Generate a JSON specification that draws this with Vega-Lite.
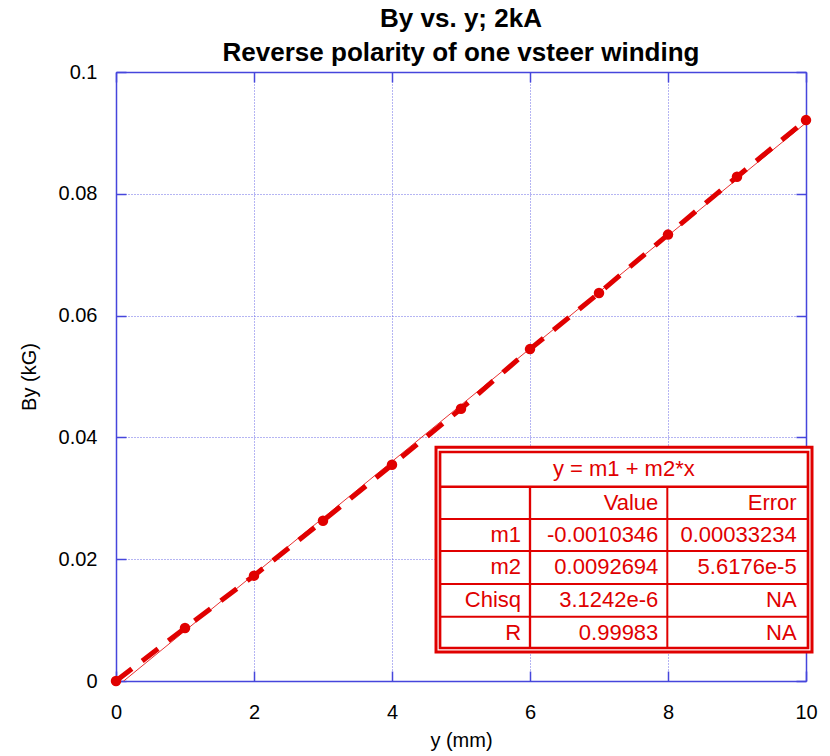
{
  "$schema": "https://vega.github.io/schema/vega-lite/v6.json",
  "autosize": "none",
  "width": 690,
  "height": 609,
  "padding": {"left": 116, "top": 72, "right": 24, "bottom": 75},
  "background": "white",
  "config": {
    "view": {"stroke": null},
    "font": "Liberation Sans",
    "axis": {
      "labelFont": "Liberation Sans", "labelFontSize": 20, "labelColor": "black", "labelFlush": false,
      "titleFont": "Liberation Sans", "titleFontSize": 20, "titleFontWeight": "normal", "titleColor": "black",
      "domainColor": "#4646dc", "domainWidth": 1.5,
      "tickColor": "#4646dc", "tickWidth": 1.5, "tickSize": -10,
      "gridColor": "#6a6ae6", "gridDash": [1, 2], "gridWidth": 1, "gridOpacity": 1
    }
  },
  "title": {
    "text": ["By vs. y; 2kA", "Reverse polarity of one vsteer winding"],
    "font": "Liberation Sans", "fontSize": 26, "fontWeight": "bold", "color": "black",
    "lineHeight": 34, "offset": -4, "anchor": "middle", "frame": "group"
  },
  "datasets": {
    "pts": [
      {"y_mm": 0, "By": 0},
      {"y_mm": 1, "By": 0.0087},
      {"y_mm": 2, "By": 0.0173},
      {"y_mm": 3, "By": 0.0263},
      {"y_mm": 4, "By": 0.0355},
      {"y_mm": 5, "By": 0.0447},
      {"y_mm": 6, "By": 0.0545},
      {"y_mm": 7, "By": 0.0637},
      {"y_mm": 8, "By": 0.0733},
      {"y_mm": 9, "By": 0.0828},
      {"y_mm": 10, "By": 0.0921}
    ],
    "fit": [
      {"y_mm": 0, "By": -0.0010346},
      {"y_mm": 10, "By": 0.091659}
    ],
    "box": [
      {"kind": "outer", "x": 4.638, "x2": 10.087, "y": 0.03837, "y2": 0.00476},
      {"kind": "inner", "x": 4.696, "x2": 10.029, "y": 0.0376, "y2": 0.00542}
    ],
    "lines": [
      {"kind": "thick", "x": 4.696, "x2": 10.029, "y": 0.0319, "y2": 0.0319},
      {"kind": "thin", "x": 4.696, "x2": 10.029, "y": 0.0266, "y2": 0.0266},
      {"kind": "thin", "x": 4.696, "x2": 10.029, "y": 0.02135, "y2": 0.02135},
      {"kind": "thin", "x": 4.696, "x2": 10.029, "y": 0.01593, "y2": 0.01593},
      {"kind": "thin", "x": 4.696, "x2": 10.029, "y": 0.01056, "y2": 0.01056},
      {"kind": "thick", "x": 6.0, "x2": 6.0, "y": 0.0319, "y2": 0.00542},
      {"kind": "thin", "x": 7.99, "x2": 7.99, "y": 0.0319, "y2": 0.00542}
    ],
    "cells": [
      {"t": "Value", "x": 7.86, "y": 0.02923},
      {"t": "Error", "x": 9.865, "y": 0.02923},
      {"t": "m1", "x": 5.87, "y": 0.02397},
      {"t": "-0.0010346", "x": 7.86, "y": 0.02397},
      {"t": "0.00033234", "x": 9.865, "y": 0.02397},
      {"t": "m2", "x": 5.87, "y": 0.01864},
      {"t": "0.0092694", "x": 7.86, "y": 0.01864},
      {"t": "5.6176e-5", "x": 9.865, "y": 0.01864},
      {"t": "Chisq", "x": 5.87, "y": 0.0133},
      {"t": "3.1242e-6", "x": 7.86, "y": 0.0133},
      {"t": "NA", "x": 9.865, "y": 0.0133},
      {"t": "R", "x": 5.87, "y": 0.00796},
      {"t": "0.99983", "x": 7.86, "y": 0.00796},
      {"t": "NA", "x": 9.865, "y": 0.00796}
    ],
    "head": [
      {"t": "y = m1 + m2*x", "x": 7.36, "y": 0.03475}
    ]
  },
  "resolve": {"axis": {"x": "independent", "y": "independent"}},
  "layer": [
    {
      "data": {"name": "fit"},
      "mark": {"type": "line", "color": "#e83030", "strokeWidth": 1, "clip": true},
      "encoding": {
        "x": {"field": "y_mm", "type": "quantitative",
              "scale": {"domain": [0, 10], "nice": false, "zero": false},
              "axis": {"orient": "top", "labels": false, "title": null, "grid": false, "values": [0, 2, 4, 6, 8, 10]}},
        "y": {"field": "By", "type": "quantitative",
              "scale": {"domain": [0, 0.1], "nice": false, "zero": false},
              "axis": {"orient": "right", "labels": false, "title": null, "grid": false, "values": [0, 0.02, 0.04, 0.06, 0.08, 0.1]}}
      }
    },
    {
      "data": {"name": "pts"},
      "mark": {"type": "line", "color": "#e00000", "strokeWidth": 5, "strokeDash": [20, 13], "clip": true},
      "encoding": {
        "x": {"field": "y_mm", "type": "quantitative",
              "axis": {"orient": "bottom", "title": "y (mm)", "values": [0, 2, 4, 6, 8, 10], "grid": true, "labelPadding": 31, "titlePadding": 8}},
        "y": {"field": "By", "type": "quantitative",
              "axis": {"orient": "left", "title": "By (kG)", "values": [0, 0.02, 0.04, 0.06, 0.08, 0.1], "format": "~g", "grid": true, "labelPadding": 29, "titlePadding": 19}}
      }
    },
    {
      "data": {"name": "pts"},
      "mark": {"type": "point", "filled": true, "shape": "circle", "size": 110, "color": "#e00000", "opacity": 1, "clip": false},
      "encoding": {
        "x": {"field": "y_mm", "type": "quantitative", "axis": null},
        "y": {"field": "By", "type": "quantitative", "axis": null}
      }
    },
    {
      "data": {"name": "box"},
      "mark": {"type": "rect", "stroke": "#e00000", "clip": false},
      "encoding": {
        "x": {"field": "x", "type": "quantitative", "axis": null},
        "x2": {"field": "x2"},
        "y": {"field": "y", "type": "quantitative", "axis": null},
        "y2": {"field": "y2"},
        "fill": {"field": "kind", "type": "nominal", "legend": null,
                 "scale": {"domain": ["outer", "inner"], "range": ["white", "transparent"]}},
        "strokeWidth": {"field": "kind", "type": "nominal", "legend": null,
                        "scale": {"domain": ["outer", "inner"], "range": [3, 2]}}
      }
    },
    {
      "data": {"name": "lines"},
      "mark": {"type": "rule", "color": "#e00000", "clip": false},
      "encoding": {
        "x": {"field": "x", "type": "quantitative", "axis": null},
        "x2": {"field": "x2"},
        "y": {"field": "y", "type": "quantitative", "axis": null},
        "y2": {"field": "y2"},
        "strokeWidth": {"field": "kind", "type": "nominal", "legend": null,
                        "scale": {"domain": ["thick", "thin"], "range": [3.5, 2]}}
      }
    },
    {
      "data": {"name": "cells"},
      "mark": {"type": "text", "align": "right", "baseline": "middle", "font": "Liberation Sans", "fontSize": 22, "color": "#e00000", "clip": false},
      "encoding": {
        "x": {"field": "x", "type": "quantitative", "axis": null},
        "y": {"field": "y", "type": "quantitative", "axis": null},
        "text": {"field": "t"}
      }
    },
    {
      "data": {"name": "head"},
      "mark": {"type": "text", "align": "center", "baseline": "middle", "font": "Liberation Sans", "fontSize": 22, "color": "#e00000", "clip": false},
      "encoding": {
        "x": {"field": "x", "type": "quantitative", "axis": null},
        "y": {"field": "y", "type": "quantitative", "axis": null},
        "text": {"field": "t"}
      }
    }
  ]
}
